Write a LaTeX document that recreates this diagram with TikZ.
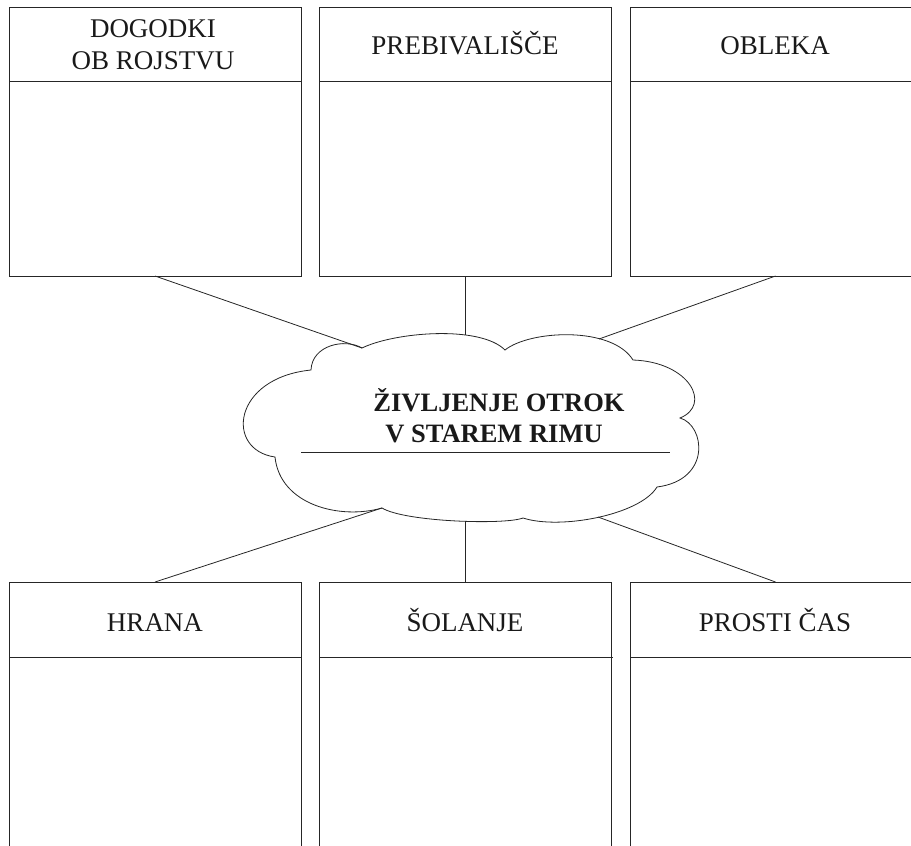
\documentclass[tikz,border=0pt]{standalone}
\usepackage{fontspec}
\setmainfont{Liberation Serif}
\begin{document}
\begin{tikzpicture}[x=1pt,y=-1pt,
  frame/.style={draw=black!85, line width=0.9pt, anchor=north west, inner sep=0pt, outer sep=0pt},
  hline/.style={draw=black!85, line width=0.9pt},
  link/.style={draw=black!85, line width=0.8pt},
  lab/.style={font=\fontsize{27}{32}\selectfont, text=black!90, anchor=base, inner sep=0pt},
  ttl/.style={font=\fontsize{26.5}{32}\selectfont\bfseries, text=black!90, anchor=base, inner sep=0pt}]
\useasboundingbox (0,0) rectangle (911,846);
\clip (0,0) rectangle (911,846);
% top boxes
\node[frame, minimum width=292pt, minimum height=269pt] (box1) at (9,7) {};
\node[frame, minimum width=292pt, minimum height=269pt] (box2) at (319,7) {};
\node[frame, minimum width=291pt, minimum height=269pt] (box3) at (630,7) {};
\draw[hline] (9,81) -- (301,81);
\draw[hline] (319,81) -- (611,81);
\draw[hline] (630,81) -- (921,81);
% bottom boxes
\node[frame, minimum width=292pt, minimum height=280pt] (box4) at (9,582) {};
\node[frame, minimum width=292pt, minimum height=280pt] (box5) at (319,582) {};
\node[frame, minimum width=291pt, minimum height=280pt] (box6) at (630,582) {};
\draw[hline] (9,657) -- (301,657);
\draw[hline] (319,657) -- (613,657);
\draw[hline] (630,657) -- (921,657);
% labels
\node[lab] (l1a) at (153,37) {DOGODKI};
\node[lab] (l1b) at (153,69) {OB ROJSTVU};
\node[lab] (l2) at (465,54) {PREBIVALIŠČE};
\node[lab] (l3) at (775,54) {OBLEKA};
\node[lab] (l4) at (155,631) {HRANA};
\node[lab] (l5) at (465,631) {ŠOLANJE};
\node[lab] (l6) at (775,631) {PROSTI ČAS};
% cloud
\coordinate (c1) at (362,348);
\coordinate (c2) at (505,350);
\coordinate (c3) at (633,360);
\coordinate (c4) at (680,418);
\coordinate (c5) at (657,487);
\coordinate (c6) at (523,518);
\coordinate (c7) at (382,508);
\coordinate (c8) at (275,457);
\coordinate (c9) at (311,370);
\draw[link, fill=white] (c1)
  .. controls (395,332) and (480,325) .. (c2)
  .. controls (530,330) and (612,326) .. (c3)
  .. controls (690,362) and (712,405) .. (c4)
  .. controls (705,425) and (712,480) .. (c5)
  .. controls (640,515) and (560,530) .. (c6)
  .. controls (505,525) and (405,522) .. (c7)
  .. controls (340,520) and (280,505) .. (c8)
  .. controls (225,450) and (232,378) .. (c9)
  .. controls (312,345) and (345,338) .. (c1) -- cycle;
\coordinate (cT) at (465,335);
\coordinate (cTR) at (599,339);
\coordinate (cB) at (465,521.5);
\coordinate (cBR) at (598,517);
% connectors
\draw[link] (box1.south) -- (c1);
\draw[link] (box2.south) -- (cT);
\draw[link] (box3.south) -- (cTR);
\draw[link] (box4.north) -- (c7);
\draw[link] (box5.north) -- (cB);
\draw[link] (box6.north) -- (cBR);
% title
\node[ttl] (t1) at (499,411) {ŽIVLJENJE OTROK};
\node[ttl] (t2) at (494,442) {V STAREM RIMU};
\coordinate (u1) at (301,452);
\coordinate (u2) at (670,452);
\draw[link] (u1) -- (u2);
\end{tikzpicture}
\end{document}
